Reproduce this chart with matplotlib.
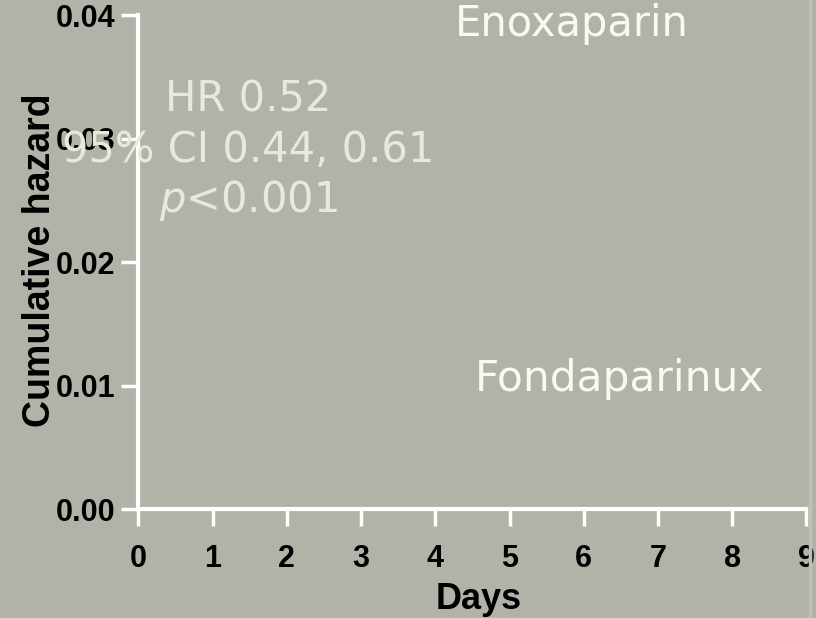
import matplotlib
matplotlib.use('Agg')
import matplotlib.pyplot as plt
from matplotlib.lines import Line2D

# axis content
x_ticks = [0, 1, 2, 3, 4, 5, 6, 7, 8, 9]
y_ticks = [0.00, 0.01, 0.02, 0.03, 0.04]
y_tick_labels = ['0.00', '0.01', '0.02', '0.03', '0.04']
stats_lines = ['HR 0.52', '95% CI 0.44, 0.61', '$p$<0.001']
arm_labels = ['Enoxaparin', 'Fondaparinux']

bg = '#b1b2a8'
stat_color = '#e8e9dc'
arm_color = '#f8f8f4'

fig = plt.figure(figsize=(8.16, 6.18), dpi=100, facecolor=bg)
ax = fig.add_axes([0.1697, 0.1756, 0.8185, 0.7999])
ax.set_facecolor(bg)

ax.set_xlim(0, 9)
ax.set_ylim(0, 0.04)

for side in ['top', 'right']:
    ax.spines[side].set_visible(False)
for side in ['left', 'bottom']:
    ax.spines[side].set_color('white')
    ax.spines[side].set_linewidth(3)
    ax.spines[side].set_capstyle('projecting')

ax.set_xticks(x_ticks)
ax.set_xticklabels([str(t) for t in x_ticks])
ax.set_yticks(y_ticks)
ax.set_yticklabels(y_tick_labels)
ax.tick_params(axis='both', colors='white', width=2.5, length=12.5,
               labelcolor='black')
ax.tick_params(axis='x', pad=12)
ax.tick_params(axis='y', pad=4)
for lab in ax.get_xticklabels() + ax.get_yticklabels():
    lab.set_fontfamily('Liberation Sans')
    lab.set_fontweight('bold')
    lab.set_fontsize(22)

ax.set_xlabel('Days', fontfamily='Liberation Sans', fontweight='bold',
              fontsize=26)
ax.xaxis.set_label_coords(0.509, -0.146)
ax.xaxis.label.set_verticalalignment('top')
ax.set_ylabel('Cumulative hazard', fontfamily='Liberation Sans',
              fontweight='bold', fontsize=27)
ax.yaxis.set_label_coords(-0.148, 0.504)
ax.yaxis.label.set_verticalalignment('center')

# hazard ratio summary
stat_y = [0.0322, 0.0281, 0.02405]
for txt, yy in zip(stats_lines, stat_y):
    ax.text(1.478, yy, txt, ha='center', va='baseline', fontsize=30,
            color=stat_color, family='DejaVu Sans', clip_on=False)

# treatment arm labels
ax.text(4.26, 0.0383, arm_labels[0], ha='left', va='baseline', fontsize=30,
        color=arm_color, family='DejaVu Sans', clip_on=False)
ax.text(4.527, 0.00955, arm_labels[1], ha='left', va='baseline', fontsize=30.5,
        color=arm_color, family='DejaVu Sans', clip_on=False)

# light frame strip on the right border
fig.add_artist(Line2D([0.9926, 0.9926], [0, 1], transform=fig.transFigure,
                      color='#bfc0b7', linewidth=2.5))

fig.savefig('out.png', dpi=100, facecolor=bg)
